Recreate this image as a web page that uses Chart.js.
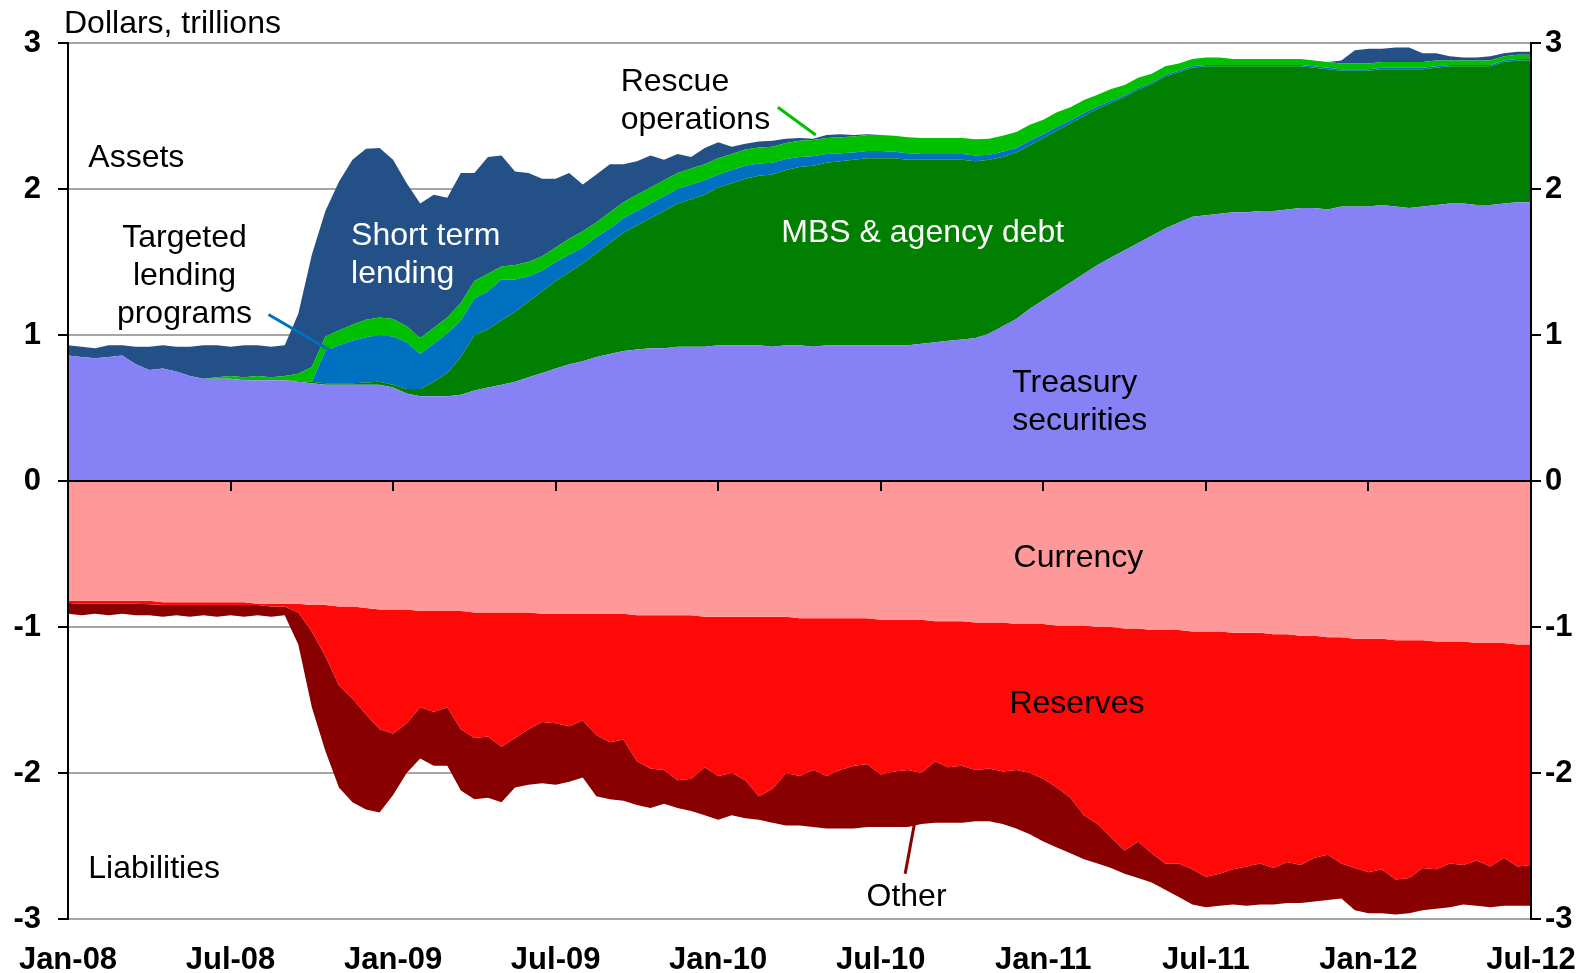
<!DOCTYPE html>
<html>
<head>
<meta charset="utf-8">
<script src="https://cdn.jsdelivr.net/npm/chart.js@4.4.1/dist/chart.umd.min.js"></script>
<style>
  html, body { margin: 0; padding: 0; background: #fff; }
</style>
</head>
<body>
<canvas id="chart" width="1589" height="973"></canvas>
<script>
// Fed balance sheet, half-monthly readings, Jan-08 .. Jul-12 (dollars, trillions)
const monthNames = ['Jan','Feb','Mar','Apr','May','Jun','Jul','Aug','Sep','Oct','Nov','Dec'];
const labels = [];
for (let i = 0; i < 109; i++) {
  const m = Math.floor(i / 2);
  labels.push(monthNames[m % 12] + '-' + String(8 + Math.floor(m / 12)).padStart(2, '0'));
}

// assets
const treasury = [
  .86,.85,.84,.85,.86,.80,.76,.77,.75,.72,
  .70,.70,.70,.69,.69,.69,.69,.68,.67,.66,
  .66,.66,.66,.66,.64,.60,.58,.58,.58,.59,
  .62,.64,.66,.68,.71,.74,.77,.80,.82,.85,
  .87,.89,.90,.91,.91,.92,.92,.92,.93,.93,
  .93,.93,.92,.93,.93,.92,.93,.93,.93,.93,
  .93,.93,.93,.94,.95,.96,.97,.98,1.01,1.06,
  1.11,1.18,1.24,1.30,1.36,1.42,1.48,1.53,1.58,1.63,
  1.68,1.73,1.77,1.81,1.82,1.83,1.84,1.84,1.85,1.85,
  1.86,1.87,1.87,1.86,1.88,1.88,1.88,1.89,1.88,1.87,
  1.88,1.89,1.90,1.90,1.89,1.89,1.90,1.91,1.91
];
const mbsAgency = [
  0,0,0,0,0,0,0,0,0,0,
  0,0,0,0,0,0,0,.005,.01,.01,
  .01,.01,.015,.02,.02,.03,.05,.10,.16,.26,
  .38,.40,.44,.48,.52,.56,.60,.63,.67,.71,
  .76,.81,.85,.89,.94,.98,1.01,1.04,1.08,1.11,
  1.14,1.16,1.18,1.20,1.22,1.24,1.25,1.26,1.27,1.28,
  1.28,1.28,1.27,1.26,1.25,1.24,1.23,1.21,1.19,1.16,
  1.14,1.12,1.11,1.10,1.09,1.08,1.07,1.06,1.05,1.05,
  1.04,1.04,1.03,1.02,1.02,1.01,1.00,1.00,.99,.99,
  .98,.97,.96,.96,.93,.93,.93,.93,.94,.95,
  .94,.94,.94,.94,.95,.95,.97,.97,.97
];
const targeted = [
  0,0,0,0,0,0,0,0,0,0,
  0,0,0,0,0,0,0,0,0,.22,
  .26,.29,.31,.32,.33,.32,.24,.26,.27,.25,
  .25,.26,.28,.22,.17,.14,.13,.12,.11,.11,
  .10,.10,.10,.10,.10,.10,.10,.10,.09,.09,
  .09,.085,.08,.075,.07,.065,.06,.055,.05,.05,
  .05,.045,.045,.04,.04,.04,.04,.04,.035,.035,
  .03,.03,.025,.025,.02,.02,.015,.015,.012,.012,
  .01,.01,.01,.01,.01,.01,.01,.01,.01,.01,
  .01,.01,.01,.01,.01,.01,.01,.01,.01,.01,
  .01,.01,.01,.01,.01,.01,.01,.01,.01
];
const rescue = [
  0,0,0,0,0,0,0,0,0,0,
  0,.01,.02,.02,.03,.02,.03,.05,.10,.10,
  .10,.11,.12,.12,.12,.11,.11,.11,.11,.12,
  .12,.12,.09,.10,.10,.10,.10,.11,.11,.10,
  .11,.11,.11,.11,.11,.11,.11,.11,.11,.11,
  .11,.11,.11,.11,.11,.11,.11,.11,.11,.11,
  .11,.11,.11,.11,.11,.11,.11,.11,.11,.11,
  .11,.11,.10,.10,.09,.09,.08,.08,.07,.07,
  .06,.06,.05,.05,.05,.05,.04,.04,.04,.04,
  .04,.04,.04,.04,.04,.04,.04,.04,.04,.04,
  .04,.04,.03,.03,.03,.03,.03,.03,.03
];
const shortTerm = [
  .07,.07,.07,.08,.07,.12,.16,.16,.17,.20,
  .23,.22,.20,.22,.21,.21,.21,.41,.77,.86,
  1.02,1.13,1.17,1.16,1.09,.98,.92,.91,.82,.89,
  .74,.80,.76,.64,.61,.53,.47,.45,.32,.33,
  .33,.26,.23,.22,.14,.13,.08,.11,.11,.05,
  .04,.04,.04,.03,.02,.01,.02,.02,.01,.005,
  0,0,0,0,0,0,0,0,0,0,
  0,0,0,0,0,0,0,0,0,0,
  0,0,0,0,0,0,0,0,0,0,
  0,0,0,0,.02,.09,.10,.09,.10,.10,
  .06,.05,.03,.02,.02,.03,.02,.02,.02
];

// liabilities (negative)
const currency = [
  -.82,-.82,-.82,-.82,-.82,-.82,-.82,-.83,-.83,-.83,
  -.83,-.83,-.83,-.83,-.84,-.84,-.84,-.84,-.85,-.85,
  -.86,-.86,-.87,-.88,-.88,-.88,-.89,-.89,-.89,-.89,
  -.90,-.90,-.90,-.90,-.90,-.91,-.91,-.91,-.91,-.91,
  -.91,-.91,-.92,-.92,-.92,-.92,-.92,-.93,-.93,-.93,
  -.93,-.93,-.93,-.93,-.94,-.94,-.94,-.94,-.94,-.94,
  -.95,-.95,-.95,-.95,-.96,-.96,-.96,-.97,-.97,-.97,
  -.98,-.98,-.98,-.99,-.99,-.99,-1.00,-1.00,-1.01,-1.01,
  -1.02,-1.02,-1.02,-1.03,-1.03,-1.03,-1.04,-1.04,-1.04,-1.05,
  -1.05,-1.06,-1.06,-1.07,-1.07,-1.08,-1.08,-1.08,-1.09,-1.09,
  -1.09,-1.10,-1.10,-1.10,-1.11,-1.11,-1.11,-1.12,-1.12
];
const reserves = [
  -.015,-.02,-.02,-.02,-.02,-.02,-.025,-.02,-.02,-.02,
  -.02,-.02,-.02,-.02,-.01,-.02,-.02,-.06,-.18,-.35,
  -.54,-.63,-.73,-.82,-.85,-.78,-.66,-.69,-.66,-.81,
  -.86,-.85,-.92,-.86,-.80,-.74,-.75,-.77,-.73,-.83,
  -.88,-.86,-1.00,-1.05,-1.06,-1.13,-1.12,-1.03,-1.09,-1.07,
  -1.12,-1.23,-1.18,-1.07,-1.08,-1.04,-1.08,-1.04,-1.01,-1.00,
  -1.06,-1.04,-1.03,-1.05,-.96,-1.00,-.99,-1.01,-1.00,-1.02,
  -1.00,-1.02,-1.06,-1.11,-1.18,-1.30,-1.35,-1.44,-1.52,-1.46,
  -1.53,-1.60,-1.60,-1.63,-1.68,-1.66,-1.62,-1.60,-1.58,-1.60,
  -1.56,-1.57,-1.52,-1.49,-1.55,-1.57,-1.60,-1.58,-1.64,-1.63,
  -1.56,-1.56,-1.52,-1.53,-1.49,-1.53,-1.47,-1.52,-1.51
];
const other = [
  -.075,-.08,-.07,-.08,-.07,-.08,-.075,-.08,-.07,-.08,
  -.07,-.08,-.07,-.08,-.07,-.07,-.06,-.22,-.52,-.65,
  -.70,-.71,-.65,-.57,-.42,-.34,-.35,-.37,-.40,-.42,
  -.42,-.42,-.38,-.34,-.38,-.42,-.42,-.38,-.39,-.42,
  -.39,-.42,-.30,-.27,-.23,-.19,-.22,-.33,-.30,-.29,
  -.26,-.16,-.23,-.36,-.34,-.39,-.36,-.40,-.43,-.43,
  -.36,-.38,-.39,-.35,-.42,-.38,-.39,-.35,-.36,-.36,
  -.40,-.42,-.43,-.41,-.38,-.30,-.27,-.21,-.16,-.25,
  -.20,-.18,-.23,-.24,-.21,-.22,-.24,-.27,-.28,-.25,
  -.28,-.26,-.30,-.31,-.24,-.29,-.28,-.30,-.24,-.24,
  -.29,-.27,-.30,-.27,-.31,-.28,-.33,-.27,-.28
];

const FONT = "'Liberation Sans', Arial, sans-serif";

// text labels placed in data space: x = observation index, y = trillions
const notes = [
  { lines: ['Assets'], x: 1.5, y: 2.21, align: 'left', color: '#000' },
  { lines: ['Liabilities'], x: 1.5, y: -2.66, align: 'left', color: '#000' },
  { lines: ['Targeted', 'lending', 'programs'], x: 8.6, y: 1.66, align: 'center', color: '#000' },
  { lines: ['Short term', 'lending'], x: 20.9, y: 1.68, align: 'left', color: '#fff' },
  { lines: ['Rescue', 'operations'], x: 40.8, y: 2.73, align: 'left', color: '#000' },
  { lines: ['MBS & agency debt'], x: 63.1, y: 1.70, align: 'center', color: '#fff' },
  { lines: ['Treasury', 'securities'], x: 69.7, y: 0.67, align: 'left', color: '#000' },
  { lines: ['Currency'], x: 69.8, y: -0.53, align: 'left', color: '#000' },
  { lines: ['Reserves'], x: 69.5, y: -1.53, align: 'left', color: '#000' },
  { lines: ['Other'], x: 61.9, y: -2.85, align: 'center', color: '#000' }
];
const pointers = [
  { from: [14.8, 1.14], to: [19.6, 0.88], color: '#0070C0' },
  { from: [52.4, 2.56], to: [55.2, 2.37], color: '#00C000' },
  { from: [61.8, -2.69], to: [62.5, -2.34], color: '#8B0000' }
];

function area(label, data, color, stack, fill) {
  return {
    label, data, stack, fill,
    backgroundColor: color, borderColor: color, borderWidth: 0,
    pointRadius: 0, pointHoverRadius: 0, tension: 0
  };
}

const overlay = {
  id: 'overlay',
  afterDatasetsDraw(chart) {
    const { ctx, chartArea: a, scales: { x, y } } = chart;
    const y0 = y.getPixelForValue(0);
    ctx.save();
    ctx.strokeStyle = '#000';
    ctx.lineWidth = 2;
    ctx.beginPath();
    ctx.moveTo(a.left, y0);
    ctx.lineTo(a.right, y0);
    for (let i = 0; i < labels.length; i += 12) {
      const px = Math.round(x.getPixelForValue(i));
      ctx.moveTo(px, y0);
      ctx.lineTo(px, y0 + 10);
    }
    ctx.stroke();
    ctx.restore();
  },
  afterDraw(chart) {
    const { ctx, chartArea: a, scales: { x, y } } = chart;
    ctx.save();
    ctx.font = '32px ' + FONT;
    ctx.textBaseline = 'middle';
    ctx.fillStyle = '#000';
    ctx.textAlign = 'left';
    ctx.fillText('Dollars, trillions', a.left - 4, a.top - 19);

    pointers.forEach(p => {
      ctx.strokeStyle = p.color;
      ctx.lineWidth = 3;
      ctx.beginPath();
      ctx.moveTo(x.getPixelForValue(p.from[0]), y.getPixelForValue(p.from[1]));
      ctx.lineTo(x.getPixelForValue(p.to[0]), y.getPixelForValue(p.to[1]));
      ctx.stroke();
    });

    notes.forEach(n => {
      ctx.fillStyle = n.color;
      ctx.textAlign = n.align;
      const px = x.getPixelForValue(n.x);
      const py = y.getPixelForValue(n.y);
      n.lines.forEach((line, k) => ctx.fillText(line, px, py + k * 38));
    });
    ctx.restore();
  }
};

const tickFont = { family: FONT, size: 31, weight: 'bold' };

new Chart(document.getElementById('chart'), {
  type: 'line',
  data: {
    labels,
    datasets: [
      area('Treasury securities', treasury, '#8682F6', 'assets', 'origin'),
      area('MBS & agency debt', mbsAgency, '#007F00', 'assets', '-1'),
      area('Targeted lending programs', targeted, '#0070C0', 'assets', '-1'),
      area('Rescue operations', rescue, '#00C000', 'assets', '-1'),
      area('Short term lending', shortTerm, '#235087', 'assets', '-1'),
      area('Currency', currency, '#FF9999', 'liabilities', 'origin'),
      area('Reserves', reserves, '#FF0808', 'liabilities', '-1'),
      area('Other', other, '#880000', 'liabilities', '-1')
    ]
  },
  options: {
    responsive: false,
    animation: false,
    devicePixelRatio: 1,
    events: [],
    layout: { padding: { top: 43, left: 0, right: 0, bottom: 0 } },
    plugins: { legend: { display: false }, tooltip: { enabled: false } },
    scales: {
      x: {
        offset: false,
        grid: { display: false, drawTicks: false },
        border: { display: false },
        ticks: {
          autoSkip: false, maxRotation: 0, minRotation: 0, padding: 10,
          color: '#000', font: { family: FONT, size: 31, weight: 'bold', lineHeight: 2 },
          callback: (v, i) => (i % 12 === 0 ? labels[i] : null)
        },
        afterFit: s => { s.height = 54; }
      },
      y: {
        stacked: true,
        min: -3, max: 3,
        grid: {
          color: c => (c.tick && c.tick.value === 0 ? '#000' : '#A6A6A6'),
          lineWidth: 2, tickLength: 10, tickColor: '#000'
        },
        border: { color: '#000', width: 2, z: 1 },
        ticks: { stepSize: 1, padding: 17, color: '#000', font: tickFont },
        afterFit: s => { s.width = 68; }
      },
      y2: {
        position: 'right',
        min: -3, max: 3,
        grid: { drawOnChartArea: false, tickLength: 10, tickColor: '#000', lineWidth: 2 },
        border: { color: '#000', width: 2, z: 1 },
        ticks: { stepSize: 1, padding: 4, color: '#000', font: tickFont },
        afterFit: s => { s.width = 58; }
      }
    }
  },
  plugins: [overlay]
});
</script>
</body>
</html>
